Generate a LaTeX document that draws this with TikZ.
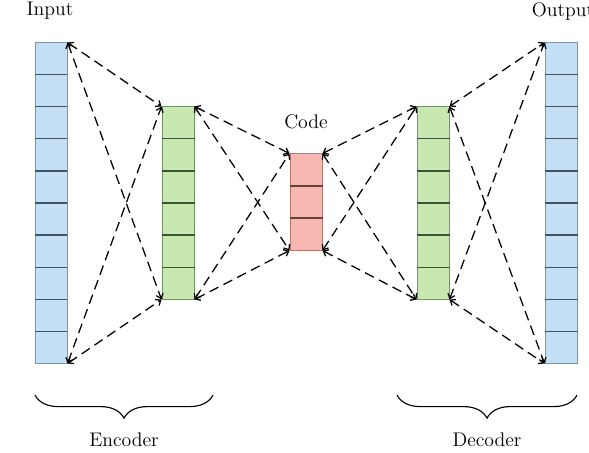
\documentclass[tikz,border=0pt]{standalone}
\usepackage{tikz}
\usepackage{xcolor}
\usetikzlibrary{arrows.meta,positioning,calc,decorations.pathreplacing}

\definecolor{inblue}{RGB}{196,224,246}
\definecolor{inedge}{RGB}{120,150,175}
\definecolor{codegreen}{RGB}{200,232,178}
\definecolor{greenedge}{RGB}{110,150,95}
\definecolor{codered}{RGB}{246,184,176}
\definecolor{rededge}{RGB}{180,120,110}

\tikzset{
    layer/.style={rectangle, draw, line width=0.7pt, minimum width=0.8cm, inner sep=0pt},
    link/.style={draw, line width=0.9pt, dash pattern=on 7pt off 4pt, {Straight Barb[length=1.1mm,width=1.8mm]}-{Straight Barb[length=1.1mm,width=1.8mm]}},
    label/.style={font=\fontsize{14}{16}\selectfont}
}

\begin{document}
\begin{tikzpicture}[x=0.025cm, y=-0.025cm]
    \useasboundingbox (0,0) rectangle (589,452);
    \def\cell{0.8}
    \node(in) [layer, draw=inedge, fill=inblue, minimum height = 10*\cell cm] at (51,203) {};
    \node(enc) [layer, draw=greenedge, fill=codegreen, minimum height = 6*\cell cm] at (178,203) {};
    \node(code) [layer, draw=rededge, fill=codered, minimum height = 3*\cell cm] at (306,202) {};
    \node(dec) [layer, draw=greenedge, fill=codegreen, minimum height = 6*\cell cm] at (433,203) {};
    \node(out) [layer, draw=inedge, fill=inblue, minimum height = 10*\cell cm] at (561,203) {};

    % cell dividers
    \foreach \n/\k/\c in {in/10/inedge!55!black, enc/6/greenedge!55!black, code/3/rededge!55!black, dec/6/greenedge!55!black, out/10/inedge!55!black} {
        \pgfmathtruncatemacro\last{\k-1}
        \foreach \i in {1,...,\last}
            \draw[\c, line width=1pt] ($(\n.north west)!\i/\k!(\n.south west)$) -- ($(\n.north east)!\i/\k!(\n.south east)$);
    }

    % dashed links
    \foreach \a/\b in {in/enc, enc/code, code/dec, dec/out} {
        \draw[link] (\a.north east) -- (\b.north west);
        \draw[link] (\a.north east) -- (\b.south west);
        \draw[link] (\a.south east) -- (\b.north west);
        \draw[link] (\a.south east) -- (\b.south west);
    }

    \node(inlabel) [label] at (50,11) {Input};
    \node(outlabel) [label] at (563,11) {Output};
    \node(codelabel) [label] at (306,122) {Code};

    \coordinate (encl) at (35,395);
    \coordinate (encr) at (213,395);
    \coordinate (decl) at (397,395);
    \coordinate (decr) at (577,395);
    \draw[line width=0.8pt, decorate, decoration={brace, mirror, amplitude=0.58cm}] (encl) -- (encr);
    \draw[line width=0.8pt, decorate, decoration={brace, mirror, amplitude=0.58cm}] (decl) -- (decr);
    \node(enclabel) [label] at (124,440) {Encoder};
    \node(declabel) [label] at (487,440) {Decoder};
\end{tikzpicture}
\end{document}
